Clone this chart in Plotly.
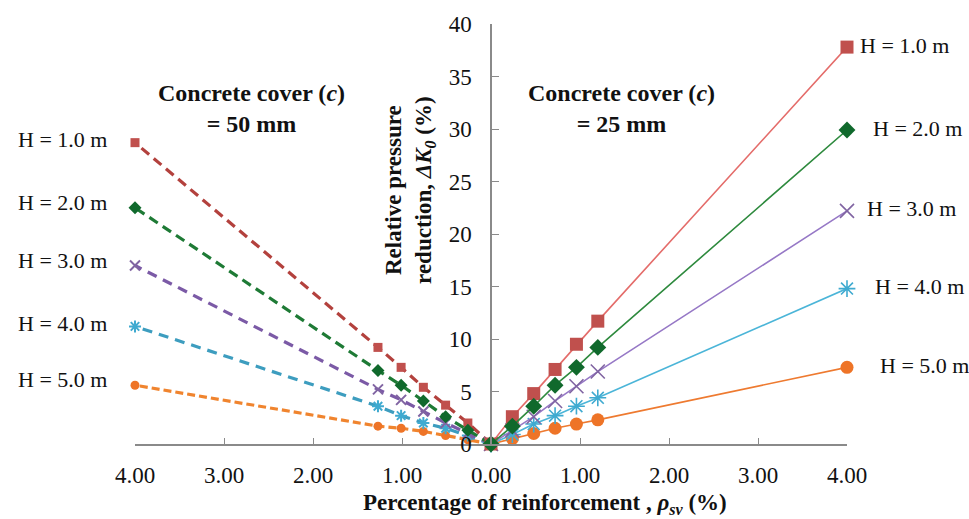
import plotly.graph_objects as go

# Reinforcement ratio rho_sv (%) for each concrete cover
rho_c25 = [0, 0.24, 0.48, 0.72, 0.96, 1.20, 4.00]   # right branch, c = 25 mm
rho_c50 = [0, 0.26, 0.51, 0.76, 1.01, 1.27, 4.00]   # left branch, c = 50 mm (drawn mirrored)

height_labels = ["H = 1.0 m", "H = 2.0 m", "H = 3.0 m", "H = 4.0 m", "H = 5.0 m"]

# Relative pressure reduction dK0 (%), cover c = 25 mm
dk_c25_h1 = [0, 2.6, 4.8, 7.1, 9.5, 11.7, 37.8]
dk_c25_h2 = [0, 1.7, 3.6, 5.6, 7.3, 9.2, 29.9]
dk_c25_h3 = [0, 1.3, 2.6, 4.1, 5.5, 6.9, 22.2]
dk_c25_h4 = [0, 0.9, 1.9, 2.7, 3.6, 4.4, 14.8]
dk_c25_h5 = [0, 0.5, 1.0, 1.5, 1.9, 2.3, 7.3]

# Relative pressure reduction dK0 (%), cover c = 50 mm
dk_c50_h1 = [0, 2.0, 3.7, 5.4, 7.3, 9.2, 28.7]
dk_c50_h2 = [0, 1.3, 2.6, 4.1, 5.6, 7.0, 22.5]
dk_c50_h3 = [0, 1.0, 2.0, 3.1, 4.2, 5.2, 17.0]
dk_c50_h4 = [0, 0.8, 1.5, 2.0, 2.7, 3.6, 11.2]
dk_c50_h5 = [0, 0.4, 0.8, 1.2, 1.5, 1.7, 5.6]

x_ticks = [-4, -3, -2, -1, 0, 1, 2, 3, 4]
x_ticktext = ["4.00", "3.00", "2.00", "1.00", "0.00", "1.00", "2.00", "3.00", "4.00"]
y_ticks = [0, 5, 10, 15, 20, 25, 30, 35, 40]
Y_MAX = 40

dk_c25 = [dk_c25_h1, dk_c25_h2, dk_c25_h3, dk_c25_h4, dk_c25_h5]
dk_c50 = [dk_c50_h1, dk_c50_h2, dk_c50_h3, dk_c50_h4, dk_c50_h5]

FONT = "Liberation Serif"
TXT = "#111111"

styles = [
    dict(symbol="square", mcol="#C0504D", lcol="#E46C6A", dcol="#B3413D", rs=13, ls=9, open=False),
    dict(symbol="diamond", mcol="#10692C", lcol="#2E8A3E", dcol="#1E7A35", rs=13, ls=10, open=False),
    dict(symbol="x-thin-open", mcol="#8064A2", lcol="#9678C6", dcol="#7B5AA6", rs=14, ls=10, open=True),
    dict(symbol="asterisk-open", mcol="#3FAAD0", lcol="#4BB5D8", dcol="#3D9DBF", rs=14, ls=10, open=True),
    dict(symbol="circle", mcol="#EE7427", lcol="#EE7A30", dcol="#F0842E", rs=13, ls=9, open=False),
]
left_dash = ["10px,6px", "10px,6px", "10px,7px", "10px,7px", "8px,4px"]

fig = go.Figure()

draw_order = [4, 3, 2, 0, 1]
for i in draw_order:
    s = styles[i]
    # left branch: c = 50 mm, mirrored onto negative x
    mk = dict(symbol=s["symbol"], size=s["ls"], color=s["mcol"])
    if s["open"]:
        mk["line"] = dict(color=s["mcol"], width=2)
    fig.add_trace(go.Scatter(
        x=[-v for v in rho_c50], y=dk_c50[i], mode="lines+markers",
        line=dict(color=s["dcol"], width=3.2, dash=left_dash[i]),
        marker=mk, cliponaxis=False, showlegend=False, name=height_labels[i],
    ))
for i in draw_order:
    s = styles[i]
    # right branch: c = 25 mm
    mk = dict(symbol=s["symbol"], size=s["rs"], color=s["mcol"])
    if s["open"]:
        mk["line"] = dict(color=s["mcol"], width=1.6)
    fig.add_trace(go.Scatter(
        x=rho_c25, y=dk_c25[i], mode="lines+markers",
        line=dict(color=s["lcol"], width=1.6),
        marker=mk, cliponaxis=False, showlegend=False, name=height_labels[i],
    ))

annotations = []
# curve labels beside the end points (paper x, since they sit outside the axis range)
left_label_shift = [3, 5, 5, 3, 6]
left_label_x = -0.036
right_label_x = [1.0154, 1.0337, 1.0253, 1.0365, 1.0435]
for i in range(5):
    annotations.append(dict(
        x=left_label_x, y=dk_c50[i][-1] / Y_MAX, xref="paper", yref="paper", text=height_labels[i],
        xanchor="right", yanchor="middle", showarrow=False, yshift=left_label_shift[i],
        font=dict(family=FONT, size=22, color=TXT),
    ))
    annotations.append(dict(
        x=right_label_x[i], y=dk_c25[i][-1] / Y_MAX, xref="paper", yref="paper", text=height_labels[i],
        xanchor="left", yanchor="middle", showarrow=False, yshift=2,
        font=dict(family=FONT, size=22, color=TXT),
    ))

# concrete cover captions
for xc, txt in [(-2.69, "Concrete cover (<i>c</i>)<br>= 50 mm"),
                (1.47, "Concrete cover (<i>c</i>)<br>= 25 mm")]:
    annotations.append(dict(
        x=xc, y=32.0, xref="x", yref="y", text="<b>" + txt + "</b>",
        xanchor="center", yanchor="middle", showarrow=False, align="center",
        font=dict(family=FONT, size=24, color=TXT),
    ))

# axis titles
annotations.append(dict(
    x=-0.91, y=24.2, xref="x", yref="y",
    text="<b>Relative pressure<br>reduction, <i>ΔK<sub>0</sub></i> (%)</b>",
    textangle=-90, xanchor="center", yanchor="middle", showarrow=False, align="center",
    font=dict(family=FONT, size=23, color=TXT),
))
annotations.append(dict(
    x=0.5758, y=-0.142, xref="paper", yref="paper",
    text="<b>Percentage of reinforcement , <i>ρ<sub>sv</sub></i> (%)</b>",
    xanchor="center", yanchor="middle", showarrow=False,
    font=dict(family=FONT, size=23, color=TXT),
))

fig.update_layout(
    width=969, height=519,
    margin=dict(l=135, r=122, t=20, b=75),
    paper_bgcolor="white", plot_bgcolor="white",
    font=dict(family=FONT, size=21, color=TXT),
    annotations=annotations,
    xaxis=dict(
        range=[-4, 4], tickvals=x_ticks, ticktext=x_ticktext,
        showgrid=False, zeroline=False, showline=True, linecolor="#8A8A8A", linewidth=1.5,
        ticks="inside", ticklen=6, tickcolor="#8A8A8A", tickwidth=1.2,
        ticklabelstandoff=10, tickfont=dict(family=FONT, size=23, color=TXT),
    ),
    yaxis=dict(
        range=[0, Y_MAX], tickvals=y_ticks, anchor="free", position=0.5, side="left",
        showgrid=False, zeroline=False, showline=True, linecolor="#8A8A8A", linewidth=1.5,
        ticks="inside", ticklen=7, tickcolor="#8A8A8A", tickwidth=1.2,
        ticklabelstandoff=14, tickfont=dict(family=FONT, size=23, color=TXT),
    ),
)

fig.write_html("out.html")
